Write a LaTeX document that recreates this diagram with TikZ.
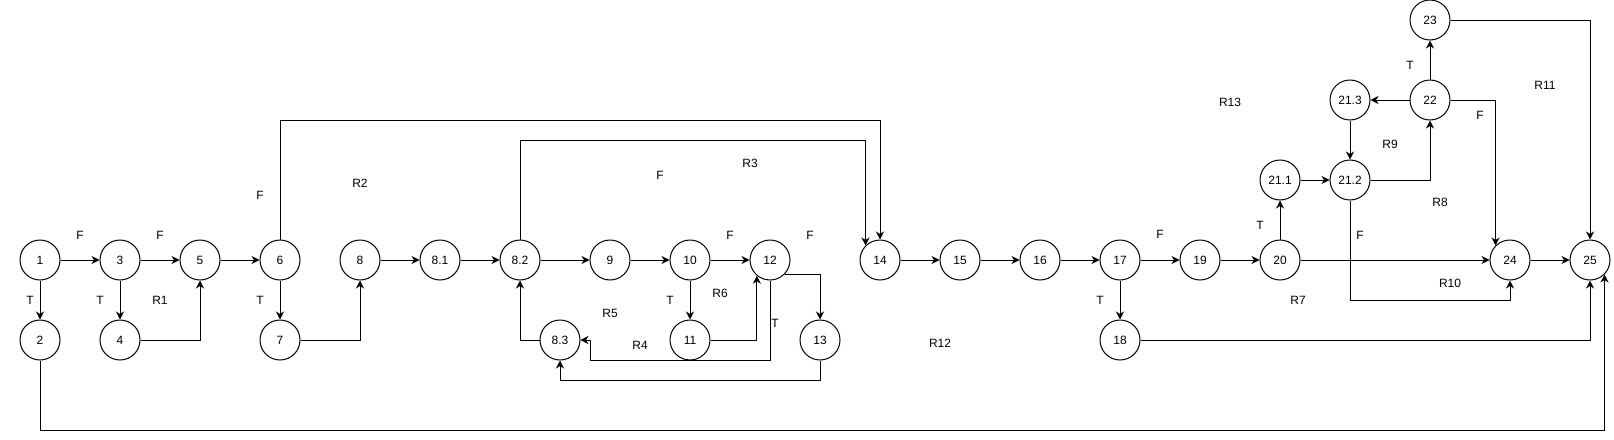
\documentclass[tikz,border=0pt]{standalone}
\usepackage{fontspec}
\setmainfont{Liberation Sans}
\usetikzlibrary{arrows.meta}
\tikzset{
  cnode/.style={circle,draw,line width=1pt,minimum size=40pt,inner sep=0pt,font=\fontsize{12pt}{14pt}\selectfont},
  lbl/.style={inner sep=0pt,font=\fontsize{12pt}{14pt}\selectfont},
  arr/.style={line width=1pt,-{Stealth[length=8pt,width=8pt,inset=2.5pt]}},
  ln/.style={line width=1pt}
}
\begin{document}
\begin{tikzpicture}[x=1pt,y=-1pt]
\useasboundingbox (0,0) rectangle (1614,439);
% nodes
\node[cnode] (n1) at (40,260) {1};
\node[cnode] (n2) at (40,340) {2};
\node[cnode] (n3) at (120,260) {3};
\node[cnode] (n4) at (120,340) {4};
\node[cnode] (n5) at (200,260) {5};
\node[cnode] (n6) at (280,260) {6};
\node[cnode] (n7) at (280,340) {7};
\node[cnode] (n8) at (360,260) {8};
\node[cnode] (n81) at (440,260) {8.1};
\node[cnode] (n82) at (520,260) {8.2};
\node[cnode] (n83) at (560,340) {8.3};
\node[cnode] (n9) at (610,260) {9};
\node[cnode] (n10) at (690,260) {10};
\node[cnode] (n11) at (690,340) {11};
\node[cnode] (n12) at (770,260) {12};
\node[cnode] (n13) at (820,340) {13};
\node[cnode] (n14) at (880,260) {14};
\node[cnode] (n15) at (960,260) {15};
\node[cnode] (n16) at (1040,260) {16};
\node[cnode] (n17) at (1120,260) {17};
\node[cnode] (n18) at (1120,340) {18};
\node[cnode] (n19) at (1200,260) {19};
\node[cnode] (n20) at (1280,260) {20};
\node[cnode] (n211) at (1280,180) {21.1};
\node[cnode] (n212) at (1350,180) {21.2};
\node[cnode] (n213) at (1350,100) {21.3};
\node[cnode] (n22) at (1430,100) {22};
\node[cnode] (n23) at (1430,20) {23};
\node[cnode] (n24) at (1510,260) {24};
\node[cnode] (n25) at (1590,260) {25};
% edges
\draw[arr] (n1) -- (n3);
\draw[arr] (n1) -- (n2);
\draw[arr] (n3) -- (n5);
\draw[arr] (n3) -- (n4);
\draw[arr] (n4.east) -| (n5.south);
\draw[arr] (n5) -- (n6);
\draw[arr] (n6) -- (n7);
\draw[arr] (n7.east) -| (n8.south);
\draw[arr] (n6.north) -- (n6.north |- 0,120) -| (n14.north);
\draw[arr] (n8) -- (n81);
\draw[arr] (n81) -- (n82);
\draw[arr] (n82.north) -- (n82.north |- 0,140) -| (n14.135);
\draw[arr] (n82) -- (n9);
\draw[arr] (n9) -- (n10);
\draw[arr] (n10) -- (n12);
\draw[arr] (n10) -- (n11);
\draw[arr] (n11.east) -| (n12.230);
\draw[arr] (n12.-45) -| (n13.north);
\draw[arr] (n12.south) |- (590,360) |- (n83.east);
\draw[arr] (n13.south) -- (n13.south |- 0,380) -| (n83.south);
\draw[arr] (n83.west) -| (n82.south);
\draw[arr] (n14) -- (n15);
\draw[arr] (n15) -- (n16);
\draw[arr] (n16) -- (n17);
\draw[arr] (n17) -- (n19);
\draw[arr] (n17) -- (n18);
\draw[arr] (n19) -- (n20);
\draw[arr] (n20) -- (n24);
\draw[arr] (n20) -- (n211);
\draw[arr] (n211) -- (n212);
\draw[arr] (n212.east) -| (n22.south);
\draw[arr] (n213) -- (n212);
\draw[arr] (n22) -- (n213);
\draw[arr] (n22) -- (n23);
\draw[arr] (n22.east) -| (n24.135);
\draw[arr] (n212.south) -- (n212.south |- 0,300) -| (n24.south);
\draw[arr] (n24) -- (n25);
\draw[arr] (n23.east) -| (n25.north);
\draw[arr] (n18.east) -| (n25.south);
\draw[arr] (n2.south) -- (n2.south |- 0,430) -| (n25.-45);
% labels
\node[lbl] (f1) at (80,235) {F};
\node[lbl] (f2) at (160,235) {F};
\node[lbl] (t1) at (30,300) {T};
\node[lbl] (t2) at (100,300) {T};
\node[lbl] (r1) at (160,300) {R1};
\node[lbl] (t3) at (260,300) {T};
\node[lbl] (f3) at (260,195) {F};
\node[lbl] (r2) at (360,183) {R2};
\node[lbl] (r3) at (750,163) {R3};
\node[lbl] (f4) at (660,175) {F};
\node[lbl] (f5) at (730,235) {F};
\node[lbl] (f6) at (810,235) {F};
\node[lbl] (r6) at (720,293) {R6};
\node[lbl] (t4) at (670,300) {T};
\node[lbl] (r5) at (610,313) {R5};
\node[lbl] (t5) at (775,323) {T};
\node[lbl] (r4) at (640,345) {R4};
\node[lbl] (r12) at (940,343) {R12};
\node[lbl] (f7) at (1160,234) {F};
\node[lbl] (t6) at (1100,300) {T};
\node[lbl] (t7) at (1260,225) {T};
\node[lbl] (r7) at (1298,300) {R7};
\node[lbl] (t8) at (1410,65) {T};
\node[lbl] (r11) at (1545,85) {R11};
\node[lbl] (r13) at (1230,102) {R13};
\node[lbl] (f8) at (1480,115) {F};
\node[lbl] (r9) at (1390,144) {R9};
\node[lbl] (r8) at (1440,202) {R8};
\node[lbl] (f9) at (1360,235) {F};
\node[lbl] (r10) at (1450,283) {R10};
\end{tikzpicture}
\end{document}
